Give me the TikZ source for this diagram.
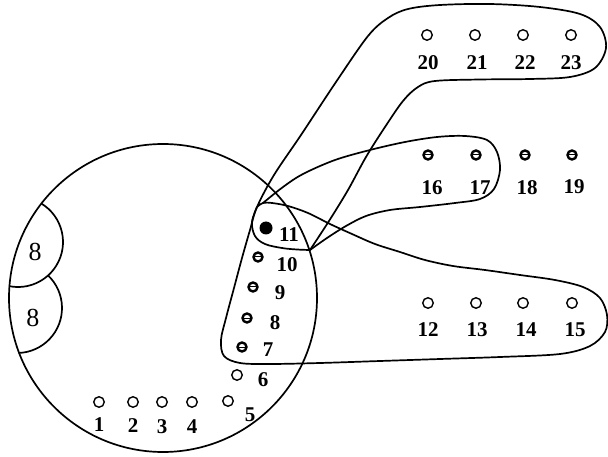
\documentclass[tikz,border=0pt]{standalone}
\usepackage{fontspec}
\setmainfont{Liberation Serif}
\begin{document}
\begin{tikzpicture}[x=1pt,y=-1pt,
  opendot/.style={circle, draw, line width=1.4pt, minimum size=10.5pt, inner sep=0pt},
  hatchdot/.style={circle, draw, line width=2.4pt, minimum size=9pt, inner sep=0pt,
     path picture={\draw[line width=1pt] ([xshift=-1pt]path picture bounding box.west) -- ([xshift=1pt]path picture bounding box.east);}},
  fulldot/.style={circle, fill, minimum size=13pt, inner sep=0pt},
  lbl/.style={font=\fontsize{21}{21}\selectfont\bfseries, inner sep=0pt},
  biglbl/.style={font=\fontsize{26}{26}\selectfont, inner sep=0pt},
  edgeline/.style={line width=1.7pt, line join=round, line cap=round}]
\useasboundingbox (0,0) rectangle (608,457);

% big circle
\draw[edgeline] (163,298) circle[radius=154];
% two "8" arcs
\draw[edgeline] (18,242) ++(-58.6:45) arc[start angle=-58.6, end angle=100.9, radius=45];
\draw[edgeline] (17,308) ++(-46.3:45) arc[start angle=-46.3, end angle=87.3, radius=45];
\node[biglbl] (e1) at (35,252) {8};
\node[biglbl] (e2) at (33,318) {8};

% junctions
\coordinate (P) at (257,207);
\coordinate (C) at (310,250);

% S20 outline + wedge / 12-15 outline
\draw[edgeline] plot[smooth, tension=0.55] coordinates {
 (310,250) (329,221) (348,190) (366,157) (385,127) (403,101) (418,87) (435,81)
 (480,79.5) (530,79) (570,77) (595,68) (606,48) (600,27) (580,14) (540,7) (490,4)
 (440,5) (408,9) (388,18) (368,36) (336,82) (301,135) (274,175)
 (257,207) (250,230) (242,258) (234,288) (226,318) (221,340) (224,356)
 (240,363) (270,364) (320,363) (380,361) (440,359) (500,357) (560,354) (590,346)
 (605,332) (607,315) (600,298) (583,287) (555,280) (520,275) (485,270) (453,266)
 (425,260) (400,252) (375,244) (352,234) (330,224) (308,213) (288,206) (272,203)
 (263,203) (257,207)};

% lower part of the loop round 11
\draw[edgeline] plot[smooth, tension=0.6] coordinates {
 (257,207) (252,222) (255,236) (265,244) (282,248) (297,249.5) (310,250)};

% 11,16,17 outline
\draw[edgeline] plot[smooth, tension=0.55] coordinates {
 (263,203) (283,187) (303,174) (335,160) (370,150) (405,142) (437,137) (465,136)
 (487,140) (497,152) (500,170) (494,189) (480,199) (455,203) (420,207) (390,210)
 (366,216) (346,226) (327,238) (310,250)};

% vertices
\node[opendot] (n1) at (99,402) {};
\node[opendot] (n2) at (133,402) {};
\node[opendot] (n3) at (162,402) {};
\node[opendot] (n4) at (192,402) {};
\node[opendot] (n5) at (228,401) {};
\node[opendot] (n6) at (237,375) {};
\node[hatchdot] (n7) at (242,347) {};
\node[hatchdot] (n8) at (247,318) {};
\node[hatchdot] (n9) at (253,287) {};
\node[hatchdot] (n10) at (258,257) {};
\node[fulldot] (n11) at (266,228) {};
\node[opendot] (n12) at (428,303) {};
\node[opendot] (n13) at (476,303) {};
\node[opendot] (n14) at (523,303) {};
\node[opendot] (n15) at (572,303) {};
\node[hatchdot] (n16) at (428,155) {};
\node[hatchdot] (n17) at (476,155) {};
\node[hatchdot] (n18) at (525,155) {};
\node[hatchdot] (n19) at (572,155) {};
\node[opendot] (n20) at (427,35) {};
\node[opendot] (n21) at (475,35) {};
\node[opendot] (n22) at (523,35) {};
\node[opendot] (n23) at (571,35) {};

% labels
\node[lbl] (l1) at (99,425) {1};
\node[lbl] (l2) at (133,426) {2};
\node[lbl] (l3) at (162,427) {3};
\node[lbl] (l4) at (192,427) {4};
\node[lbl] (l5) at (250,415) {5};
\node[lbl] (l6) at (263,380) {6};
\node[lbl] (l7) at (268,350) {7};
\node[lbl] (l8) at (275,323) {8};
\node[lbl] (l9) at (280,293) {9};
\node[lbl] (l10) at (287,265) {10};
\node[lbl] (l11) at (289,235) {11};
\node[lbl] (l12) at (428,330) {12};
\node[lbl] (l13) at (477,330) {13};
\node[lbl] (l14) at (526,330) {14};
\node[lbl] (l15) at (575,330) {15};
\node[lbl] (l16) at (432,188) {16};
\node[lbl] (l17) at (480,188) {17};
\node[lbl] (l18) at (527,188) {18};
\node[lbl] (l19) at (574,187) {19};
\node[lbl] (l20) at (428,63) {20};
\node[lbl] (l21) at (477,63) {21};
\node[lbl] (l22) at (525,63) {22};
\node[lbl] (l23) at (571,63) {23};
\end{tikzpicture}
\end{document}
